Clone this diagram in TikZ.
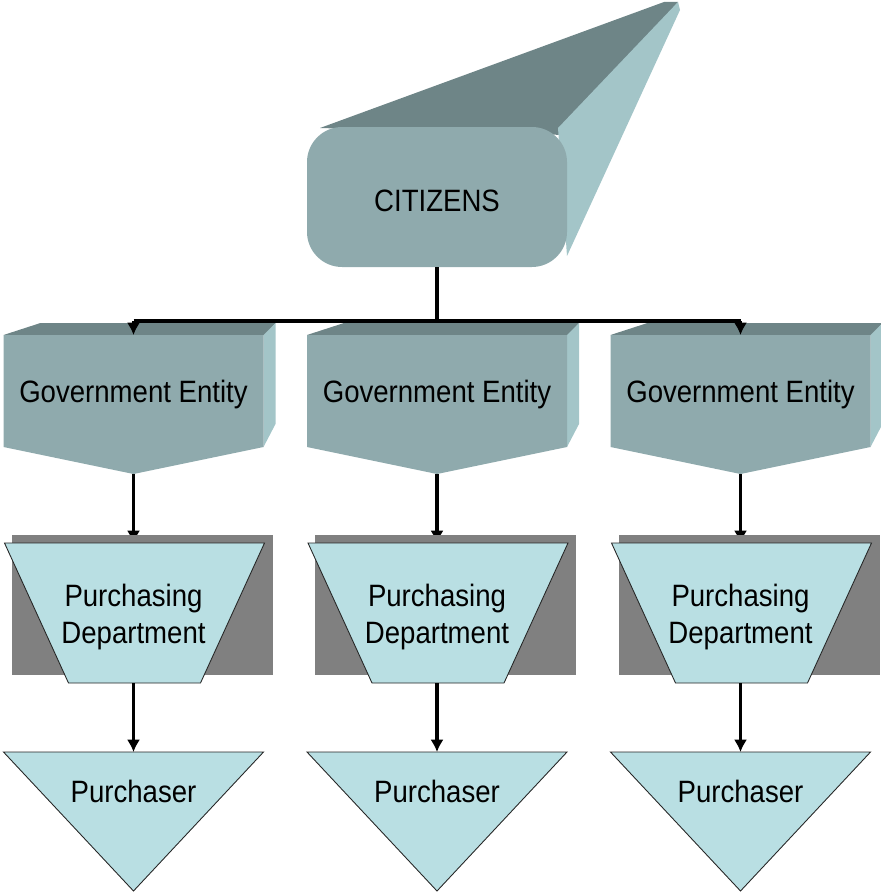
\documentclass[tikz,border=0pt]{standalone}
\usepackage{fontspec}
\setmainfont{Liberation Sans}
\usetikzlibrary{arrows.meta}

\definecolor{faceC}{HTML}{8FAAAD}
\definecolor{topC}{HTML}{6E8587}
\definecolor{sideC}{HTML}{A3C5C8}
\definecolor{paleC}{HTML}{B9DFE3}
\definecolor{shadowC}{HTML}{808080}

% slightly taller letters, as in the original slide
\newcommand{\tall}[1]{\scalebox{1}[1.12]{#1}}

\tikzset{
	lbl/.style={font=\fontsize{15.7}{21.5}\selectfont, align=center, inner sep=0pt},
	link/.style={line width=2.2pt},
	arrowlink/.style={link, -{Latex[length=7pt, width=7.5pt]}},
	pale/.style={fill=paleC, draw=black!85, line width=0.5pt}
}

\begin{document}
\begin{tikzpicture}[x=0.02cm, y=-0.02cm]
		\def\xstart{133.5} % Centre of the first column
		\def\xgap{303.5}   % Horizontal gap between columns
		\def\ybar{321}     % Height of the branching bar
		
		\useasboundingbox (0,0) rectangle (881,892);
		
		% Citizens block with its long extrusion
		\fill[topC] (320,128) -- (664,2) -- (678,2) -- (565,135) -- cycle;
		\fill[sideC] (558,128) -- (678,2) -- (680,10) -- (567,256) -- cycle;
		\fill[faceC, rounded corners=20] (307,127) rectangle (567,267);
		\node[lbl] (cit) at (437,201) {\tall{CITIZENS}};
		\coordinate (cit-s) at (437,267);
		\coordinate (bar) at (437,\ybar);
		
		\foreach \i in {1, 2, 3} {
			\pgfmathsetmacro{\x}{\xstart + (\i-1) * \xgap}
			
			% Government entity block
			\fill[topC] (\x-130,335) -- (\x-93,323) -- (\x+142,323) -- (\x+132,335) -- cycle;
			\fill[sideC] (\x+130,335) -- (\x+142,323) -- (\x+142,424) -- (\x+130,447) -- cycle;
			\fill[faceC] (\x-130,335) -- (\x+130,335) -- (\x+130,447) -- (\x,474) -- (\x-130,447) -- cycle;
			\node[lbl] (ge\i) at (\x,395) {\tall{Government Entity}};
			\coordinate (ge\i-n) at (\x,335);
			\coordinate (ge\i-s) at (\x,474);
			\coordinate (bar\i) at (\x,\ybar);
			
			% Link from the entity to its department (hidden under the shadow)
			\coordinate (pd\i-n) at (\x,543);
			\draw[arrowlink] (ge\i-s) -- (pd\i-n);
			
			% Purchasing department with grey shadow
			\fill[shadowC] (\x-122,535) rectangle (\x+139,675);
			\draw[pale] (\x-129,543) -- (\x+131,543) -- (\x+67,683) -- (\x-65,683) -- cycle;
			\node[lbl] (pd\i) at (\x,617) {\tall{Purchasing}\\\tall{Department}};
			\coordinate (pd\i-s) at (\x,683);
			
			% Purchaser triangle
			\draw[pale] (\x-130,752) -- (\x+130,752) -- (\x,891) -- cycle;
			\node[lbl] (pu\i) at (\x,791) {\tall{Purchaser}};
			\coordinate (pu\i-n) at (\x,752);
			\draw[arrowlink] (pd\i-s) -- (pu\i-n);
		}
		
		% Branches from the citizens
		\draw[link] (cit-s) -- (bar);
		\draw[link] (bar1) -- (bar3);
		\draw[arrowlink] (bar1) -- (ge1-n);
		\draw[arrowlink] (bar3) -- (ge3-n);
	\end{tikzpicture}
\end{document}
